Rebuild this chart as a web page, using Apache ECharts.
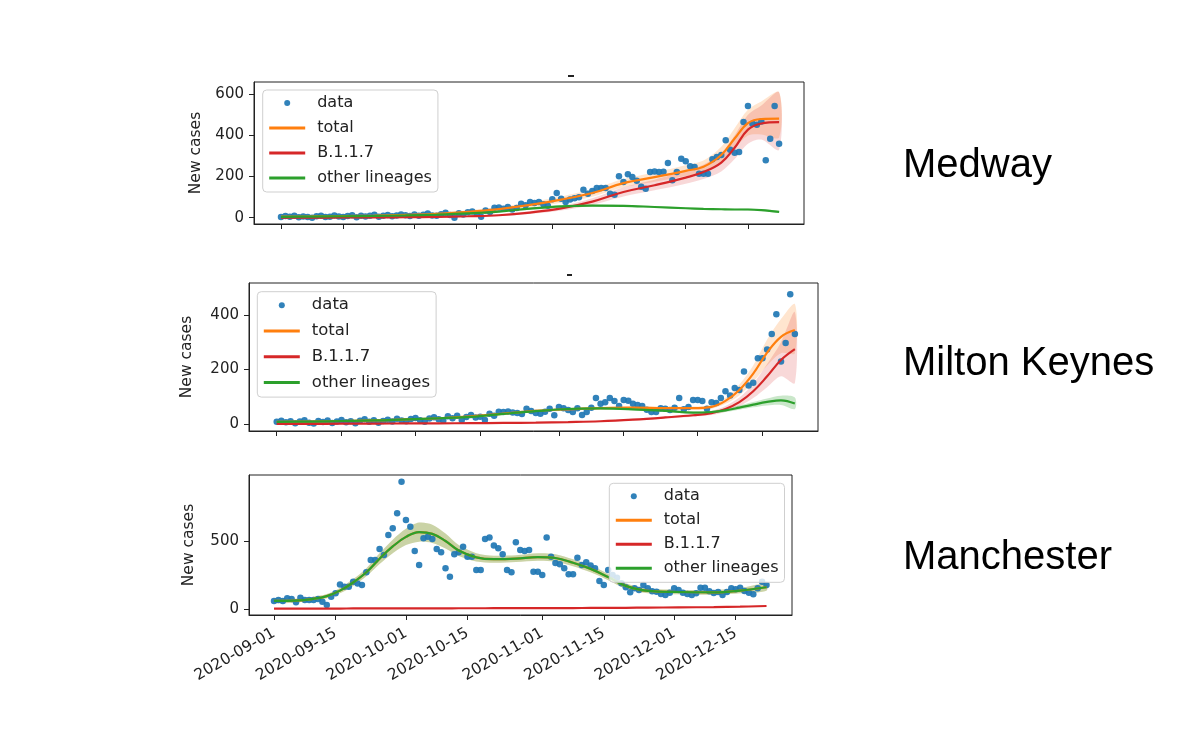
<!DOCTYPE html>
<html><head><meta charset="utf-8">
<script src="https://cdn.jsdelivr.net/npm/echarts@6.0.0/dist/echarts.min.js"></script>
<style>html,body{margin:0;padding:0;background:#fff}#chart{width:1200px;height:740px}</style>
</head><body><div id="chart"></div>
<script>
// ---------- tick labels / names ----------
const xTickDays = [0, 14, 30, 44, 61, 75, 91, 105]; // days since 2020-09-01
const xTickLabels = ['2020-09-01','2020-09-15','2020-10-01','2020-10-15','2020-11-01','2020-11-15','2020-12-01','2020-12-15'];
const seriesNames = ['data', 'total', 'B.1.1.7', 'other lineages'];
const regionNames = ['Medway', 'Milton Keynes', 'Manchester'];
const medwayYTicks = [0, 200, 400, 600];
const mkYTicks = [0, 200, 400];
const manYTicks = [0, 500];

// ---------- daily case data (index = day since 2020-09-01) ----------
const medwayCases = [3,8,5,10,2,6,4,0,7,9,3,5,11,6,
  4,8,12,2,9,6,10,14,5,9,13,7,11,15,
  12,8,16,10,14,20,11,9,17,24,13,0,22,15,
  26,30,21,5,35,28,48,50,44,52,40,47,
  68,60,76,72,76,65,58,90,120,92,
  76,88,95,100,136,117,130,144,145,144,
  117,112,201,173,211,198,180,150,141,222,
  225,222,224,266,182,222,287,275,250,246,
  214,214,214,284,295,305,376,330,316,319,
  465,543,457,452,468,279,384,543,360];
const mkCases = [8,12,6,10,3,9,14,5,2,11,7,13,4,9,
  15,6,10,3,12,17,8,14,5,11,16,9,19,13,
  10,18,22,14,8,20,25,17,12,28,21,30,15,26,
  33,24,27,15,38,30,45,44,46,42,40,37,
  56,48,40,38,45,56,32,62,58,51,
  44,58,33,44,60,95,74,80,95,84,
  66,88,85,74,70,66,52,44,44,58,
  56,51,60,95,54,62,88,88,84,56,
  80,77,95,120,105,132,125,193,141,151,
  241,241,273,330,403,229,297,476,330];
const manCases = [59,66,59,79,74,49,83,66,66,66,
  74,54,29,90,115,181,164,164,201,188,
  176,270,360,360,441,397,544,593,704,936,
  654,605,426,324,520,532,515,441,417,299,
  238,402,417,458,385,385,287,287,515,525,
  466,446,402,287,270,490,434,426,434,274,
  274,250,525,385,338,329,300,255,255,377,
  324,343,320,299,206,176,287,250,230,189,
  160,123,152,140,176,152,130,127,110,103,
  120,152,140,120,110,103,115,157,157,130,
  118,125,103,125,152,145,157,132,120,108,
  152,201,176];

// ---------- model fits (knot days + values) ----------
const medwayFitDays = [0,7,14,21,28,35,42,49,56,63,70,77,84,91,95,99,102,105,108,112];
const medwayTotal   = [5,6,8,10,14,19,28,42,62,88,120,168,197,228,248,305,385,460,480,482];
const medwayTotalLo = [2,3,4,6,9,13,20,32,50,73,102,148,175,203,220,268,335,400,405,390];
const medwayTotalHi = [8,9,12,14,19,25,36,52,75,103,138,188,220,255,278,345,435,525,565,610];
const medwayB117    = [0.3,0.5,1,1.5,2.5,4,7,12,25,45,78,125,158,195,222,268,340,428,458,465];
const medwayB117Lo  = [0,0,0.5,1,1.5,2.5,4.5,8,18,35,62,103,133,165,188,225,285,360,380,330];
const medwayB117Hi  = [1,1.5,2,3,4,6,10,17,33,56,95,148,185,228,258,315,400,500,545,610];
const medwayOther   = [4.5,5.5,7,8.5,11,15,21,30,44,55,59,58,52,46,43,41,40,40,37,28];
const medwayOtherLo = [3,4,5,6.5,9,12.5,18,26,39,50,54,53,48,42,39,37,36,35,32,23];
const medwayOtherHi = [6,7,9,10.5,13,17.5,24,34,49,60,64,63,56,50,47,45,44,45,42,33];

const mkFitDays = [0,7,14,21,28,35,42,49,56,63,70,77,84,90,94,97,100,103,106,109,112];
const mkTotal   = [8,9,11,13,17,21,28,38,48,54,58,60,58,58,63,85,125,185,262,320,345];
const mkTotalLo = [4,5,7,9,13,17,24,33,43,49,53,55,53,52,56,74,105,155,215,260,260];
const mkTotalHi = [12,13,15,17,21,25,32,43,53,59,63,65,63,64,70,96,145,215,310,385,440];
const mkB117    = [0,0.5,1,1.5,2,2.5,3,4,5,7,10,16,24,32,40,55,80,120,175,235,275];
const mkB117Lo  = [0,0,0.5,1,1.5,2,2.5,3,4,5.5,8,13,20,27,33,45,65,95,135,175,150];
const mkB117Hi  = [0.5,1,1.5,2,2.5,3,4,5,6.5,9,12,19,28,38,48,66,97,148,220,300,410];
const mkOther   = [8,9,11,13,17,21,26,37,47,55,57,54,48,42,44,50,60,71,81,87,75];
const mkOtherLo = [5,6,8,10,14,18,23,33,43,51,53,50,44,38,39,44,52,61,68,70,55];
const mkOtherHi = [11,12,14,16,20,24,29,41,51,59,61,58,52,46,49,56,68,81,94,104,97];

const manFitDays = [0,5,9,12,15,18,21,24,27,30,33,36,39,42,46,50,55,60,64,68,72,76,80,85,92,100,106,112];
const manTotal   = [60,62,75,95,135,195,270,370,460,530,565,552,500,430,380,366,370,382,375,340,295,235,170,133,125,122,135,160];
const manTotalLo = [45,48,60,80,115,170,240,330,410,470,495,485,445,390,350,340,345,355,348,315,270,212,150,115,108,105,115,135];
const manTotalHi = [75,76,90,110,155,220,300,410,510,590,635,620,555,470,410,392,395,409,402,365,320,258,190,151,142,139,155,185];
const manB117    = [3,3,3,3.5,3.5,4,4,4,4.5,4.5,5,5,5,5.5,5.5,6,6,6.5,7,7,8,8,9,10,12,14,17,22];
const manB117Lo  = [1,1,1,1.5,1.5,2,2,2,2.5,2.5,3,3,3,3.5,3.5,4,4,4.5,5,5,6,6,7,8,10,12,14,18];
const manB117Hi  = [5,5,5,5.5,5.5,6,6,6,6.5,6.5,7,7,7,7.5,7.5,8,8,8.5,9,9,10,10,11,12,14,16,20,26];
const manOther   = [60,62,75,95,135,195,270,370,460,530,565,552,500,430,380,366,370,382,375,340,295,235,170,133,125,122,135,160];
const manOtherLo = [45,48,60,80,115,170,240,330,410,470,495,485,445,390,350,340,345,355,348,315,270,212,150,115,108,105,115,135];
const manOtherHi = [75,76,90,110,155,220,300,410,510,590,635,620,555,470,410,392,395,409,402,365,320,258,190,151,142,139,155,185];

// ---------- assemble panels ----------
const panelsData = [
  {cases: medwayCases, days: medwayFitDays, total: [medwayTotal, medwayTotalLo, medwayTotalHi], b117: [medwayB117, medwayB117Lo, medwayB117Hi], other: [medwayOther, medwayOtherLo, medwayOtherHi], yTicks: medwayYTicks},
  {cases: mkCases, days: mkFitDays, total: [mkTotal, mkTotalLo, mkTotalHi], b117: [mkB117, mkB117Lo, mkB117Hi], other: [mkOther, mkOtherLo, mkOtherHi], yTicks: mkYTicks},
  {cases: manCases, days: manFitDays, total: [manTotal, manTotalLo, manTotalHi], b117: [manB117, manB117Lo, manB117Hi], other: [manOther, manOtherLo, manOtherHi], yTicks: manYTicks}
];

// layout (positions / styles only)
const layout = [
  {grid: {left: 254, top: 82, width: 550, height: 142}, x: [-6.07, 117.6], y: [-30.6, 659.8], legend: {left: 262.7, top: 90}, legendFont: 16, legendGap: 9, label: {x: 903, y: 166}, nameGap: 50, showX: false},
  {grid: {left: 249, top: 283, width: 569, height: 148}, x: [-5.99, 117.0], y: [-25.7, 517.4], legend: {left: 257.3, top: 291.7}, legendFont: 16.5, legendGap: 8.8, label: {x: 903, y: 364}, nameGap: 54, showX: false},
  {grid: {left: 249, top: 475, width: 543, height: 140}, x: [-5.69, 117.8], y: [-44, 985], legend: {left: 609.3, top: 483.3}, legendFont: 16, legendGap: 8, label: {x: 903, y: 558}, nameGap: 52, showX: true}
];

const C = {blue: '#1f77b4', orange: '#ff7f0e', red: '#d62728', green: '#2ca02c'};
const BAND = {orange: 'rgba(255,127,14,0.2)', red: 'rgba(214,39,40,0.18)', green: 'rgba(44,160,44,0.25)'};
const FONT = 'DejaVu Sans';
const INK = '#222';

function bandSeries(idx, days, lo, hi, fill) {
  return {
    type: 'custom', xAxisIndex: idx, yAxisIndex: idx, silent: true, z: 1,
    clip: true,
    data: days.map((d, i) => [d, lo[i], hi[i]]),
    encode: {x: 0, y: [1, 2]},
    renderItem: function (params, api) {
      if (params.dataIndex !== 0) return null;
      const pts = [];
      for (let i = 0; i < days.length; i++) pts.push(api.coord([days[i], hi[i]]));
      for (let i = days.length - 1; i >= 0; i--) pts.push(api.coord([days[i], lo[i]]));
      return {type: 'polygon', shape: {points: pts, smooth: 0.3}, style: {fill: fill}};
    }
  };
}
function lineSeries(idx, name, days, vals, color) {
  return {
    type: 'line', name: name, xAxisIndex: idx, yAxisIndex: idx, z: 3,
    data: days.map((d, i) => [d, vals[i]]),
    smooth: 0.4, symbol: 'none', showSymbol: false, silent: true,
    lineStyle: {color: color, width: 2.2}, itemStyle: {color: color}
  };
}

const grids = [], xAxes = [], yAxes = [], series = [], legends = [], graphics = [];
panelsData.forEach((p, idx) => {
  const L = layout[idx];
  grids.push(Object.assign({show: true, borderColor: INK, borderWidth: 1, backgroundColor: 'transparent'}, L.grid));
  xAxes.push({
    type: 'value', gridIndex: idx, min: L.x[0], max: L.x[1],
    axisLine: {show: true, onZero: false, lineStyle: {color: INK, width: 1}},
    splitLine: {show: false},
    axisTick: {show: true, inside: false, length: 5, customValues: xTickDays, lineStyle: {color: INK}},
    axisLabel: {show: L.showX, customValues: xTickDays, rotate: 30, margin: 17, fontSize: 15.5, fontFamily: FONT, color: INK,
      formatter: v => xTickLabels[xTickDays.indexOf(Math.round(v))] || ''}
  });
  yAxes.push({
    type: 'value', gridIndex: idx, min: L.y[0], max: L.y[1],
    name: 'New cases', nameLocation: 'middle', nameGap: L.nameGap,
    nameTextStyle: {fontSize: 15.5, fontFamily: FONT, color: INK},
    axisLine: {show: true, onZero: false, lineStyle: {color: INK, width: 1}},
    splitLine: {show: false},
    axisTick: {show: true, inside: false, length: 5, customValues: p.yTicks, lineStyle: {color: INK}},
    axisLabel: {customValues: p.yTicks, margin: 10, fontSize: 15, fontFamily: FONT, color: INK}
  });
  series.push(bandSeries(idx, p.days, p.total[1], p.total[2], BAND.orange));
  series.push(bandSeries(idx, p.days, p.b117[1], p.b117[2], BAND.red));
  series.push(bandSeries(idx, p.days, p.other[1], p.other[2], BAND.green));
  series.push({
    type: 'scatter', name: seriesNames[0], xAxisIndex: idx, yAxisIndex: idx, z: 2, silent: true,
    data: p.cases.map((v, i) => [i, v]), symbol: 'circle', symbolSize: 6.5,
    itemStyle: {color: C.blue, opacity: 0.92}
  });
  series.push(lineSeries(idx, seriesNames[1], p.days, p.total[0], C.orange));
  series.push(lineSeries(idx, seriesNames[2], p.days, p.b117[0], C.red));
  series.push(lineSeries(idx, seriesNames[3], p.days, p.other[0], C.green));
  legends.push({
    show: true, orient: 'vertical', left: L.legend.left, top: L.legend.top,
    data: [
      {name: seriesNames[0]},
      {name: seriesNames[1], itemStyle: {opacity: 0}},
      {name: seriesNames[2], itemStyle: {opacity: 0}},
      {name: seriesNames[3], itemStyle: {opacity: 0}}
    ],
    itemWidth: 36, itemHeight: 6, itemGap: L.legendGap,
    padding: [5, 6, 6, 5], backgroundColor: 'rgba(255,255,255,0.8)',
    borderColor: '#cfcfcf', borderWidth: 1, borderRadius: 4,
    selectedMode: false, lineStyle: {width: 3},
    textStyle: {fontSize: L.legendFont, fontFamily: FONT, color: INK, padding: [0, 0, 0, 7]}
  });
  graphics.push({
    type: 'text', x: L.label.x, y: L.label.y, z: 10,
    style: {text: regionNames[idx], font: '40px "Liberation Sans", Arial, sans-serif', fill: '#000', verticalAlign: 'middle', align: 'left'}
  });
});
// small cropped title fragments visible above the first two panels
graphics.push({type: 'rect', shape: {x: 568, y: 75, width: 6, height: 2}, style: {fill: '#222'}, z: 10, silent: true});
graphics.push({type: 'rect', shape: {x: 567, y: 274, width: 5, height: 2}, style: {fill: '#222'}, z: 10, silent: true});

const chart = echarts.init(document.getElementById('chart'), null, {renderer: 'canvas'});
chart.setOption({
  animation: false,
  backgroundColor: '#fff',
  grid: grids, xAxis: xAxes, yAxis: yAxes,
  legend: legends, series: series, graphic: graphics
});
</script></body></html>
